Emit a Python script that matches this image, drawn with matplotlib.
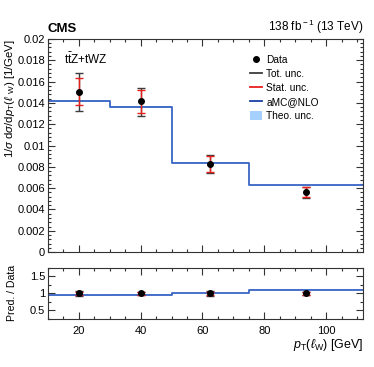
import matplotlib
matplotlib.use('Agg')
import matplotlib.pyplot as plt
from matplotlib.ticker import MultipleLocator
from matplotlib.patches import Patch
from matplotlib.lines import Line2D
import numpy as np

plt.rcParams['font.family'] = ['Liberation Sans', 'DejaVu Sans']
plt.rcParams['mathtext.fontset'] = 'custom'
plt.rcParams['mathtext.rm'] = 'Liberation Sans'
plt.rcParams['mathtext.it'] = 'Liberation Sans:italic'

# binning and values
edges = [10, 30, 50, 75, 112]
centers = [20, 40, 62.5, 93.5]
data = [0.01505, 0.01413, 0.00824, 0.00563]
tot_up = [0.00178, 0.00125, 0.00084, 0.00050]
tot_dn = [0.00180, 0.00132, 0.00085, 0.00056]
stat_up = [0.00125, 0.00112, 0.00075, 0.00045]
stat_dn = [0.00125, 0.00104, 0.00076, 0.00050]
pred = [0.01415, 0.0136, 0.0084, 0.00626]
theo = [0.00008, 0.00008, 0.00006, 0.00005]

blue = '#3a66c4'
lightblue = '#a6d1ff'
red = '#e8201c'
grey = '#3c3c3c'

fig = plt.figure(figsize=(3.74, 3.67), dpi=100)
ax = fig.add_axes([0.128, 0.313, 0.843, 0.581])
ax2 = fig.add_axes([0.128, 0.131, 0.843, 0.139])

def step(vals):
    return np.append(vals, vals[-1])

pv = np.array(pred)
tv = np.array(theo)
dv = np.array(data)

# main panel
ax.fill_between(edges, step(pv - tv), step(pv + tv), step='post', color=lightblue, lw=0)
ax.step(edges, step(pv), where='post', color=blue, lw=1.3)
ax.errorbar(centers, data, yerr=[tot_dn, tot_up], fmt='none', ecolor=grey, elinewidth=1, capsize=3, capthick=1)
ax.errorbar(centers, data, yerr=[stat_dn, stat_up], fmt='none', ecolor=red, elinewidth=1, capsize=3, capthick=1)
ax.plot(centers, data, 'o', color='black', ms=4)

ax.set_xlim(10, 112)
ax.set_ylim(0, 0.02)
ax.yaxis.set_minor_locator(MultipleLocator(0.0004))
ax.set_yticks(np.arange(0, 0.0201, 0.002))
ax.set_yticklabels(['0', '0.002', '0.004', '0.006', '0.008', '0.01', '0.012', '0.014', '0.016', '0.018', '0.02'])
ax.tick_params(labelbottom=False)
ax.set_ylabel(r'1/$\sigma$ d$\sigma$/d$p_{\rm T}$($\ell$ $_{\rm W}$) [1/GeV]', fontsize=8.2)
ax.yaxis.set_label_coords(-0.097, 1.0)
ax.yaxis.label.set_horizontalalignment('right')

ax.text(0.0, 1.02, 'CMS', transform=ax.transAxes, fontsize=9.5, fontweight='bold', ha='left', va='bottom')
ax.text(1.0, 1.015, r'138 fb$^{\rm -1}$ (13 TeV)', transform=ax.transAxes, fontsize=8.5, ha='right', va='bottom')
ax.text(0.05, 0.905, r't$\bar{\rm t}$Z+tWZ', transform=ax.transAxes, fontsize=8.5, ha='left', va='center')

handles = [Line2D([], [], marker='o', color='black', ls='none', ms=4),
           Line2D([], [], color=grey, lw=1.3),
           Line2D([], [], color=red, lw=1.3),
           Line2D([], [], color='#1a3fa8', lw=1.3),
           Patch(facecolor=lightblue, edgecolor='none')]
labels = ['Data', 'Tot. unc.', 'Stat. unc.', 'aMC@NLO', 'Theo. unc.']
ax.legend(handles, labels, loc='upper left', bbox_to_anchor=(0.625, 0.95), frameon=False,
          fontsize=7.3, handlelength=1.2, handleheight=1.0, handletextpad=0.4, labelspacing=0.4, borderpad=0)

# ratio panel
ratio = pv / dv
rt = tv / dv
ax2.fill_between(edges, step(ratio - rt), step(ratio + rt), step='post', color=lightblue, lw=0)
ax2.step(edges, step(ratio), where='post', color=blue, lw=1.3)
ones = np.ones(len(centers))
ax2.errorbar(centers, ones, yerr=[np.array(tot_dn) / dv * 0.6, np.array(tot_up) / dv * 0.6], fmt='none',
             ecolor=grey, elinewidth=1, capsize=3, capthick=1)
ax2.errorbar(centers, ones, yerr=[np.array(stat_dn) / dv * 0.6, np.array(stat_up) / dv * 0.6], fmt='none',
             ecolor=red, elinewidth=1, capsize=3, capthick=1)
ax2.plot(centers, ones, 'o', color='black', ms=4)

ax2.set_xlim(10, 112)
ax2.set_ylim(0.25, 1.75)
ax2.set_yticks([0.5, 1, 1.5])
ax2.set_yticklabels(['0.5', '1', '1.5'])
ax2.yaxis.set_minor_locator(MultipleLocator(0.25))
ax2.set_ylabel('Pred. / Data', fontsize=7.6)
ax2.yaxis.set_label_coords(-0.097, 0.5)
ax2.set_xlabel(r'$p_{\rm T}(\ell_{\rm W})$ [GeV]', fontsize=9)
ax2.xaxis.set_label_coords(1.0, -0.36)
ax2.xaxis.label.set_horizontalalignment('right')

for a in (ax, ax2):
    a.xaxis.set_major_locator(MultipleLocator(20))
    a.xaxis.set_minor_locator(MultipleLocator(5))
    a.tick_params(which='both', direction='in', top=True, right=True, labelsize=8, pad=2, width=0.8, color='#333333')
    a.tick_params(which='major', length=5)
    a.tick_params(which='minor', length=2.5)
    for s in a.spines.values():
        s.set_linewidth(0.8)
        s.set_color('#333333')
ax2.tick_params(axis='x', pad=5)

fig.savefig('out.png', dpi=100)
